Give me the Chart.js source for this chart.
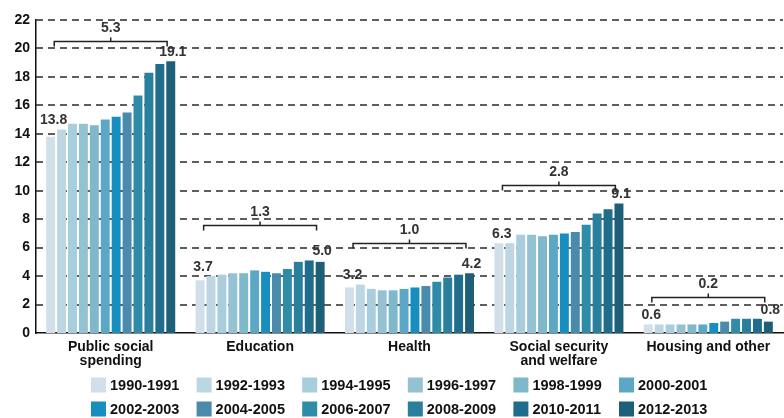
<!DOCTYPE html>
<html>
<head>
<meta charset="utf-8">
<script src="https://cdn.jsdelivr.net/npm/chart.js@4/dist/chart.umd.min.js"></script>
<style>
    body { margin: 0; background: #fff; }
    #wrap { width: 784px; height: 418px; }
</style>
</head>
<body>
<div id="wrap"><canvas id="myChart"></canvas></div>
<script>
    const categories = [["Public social", "spending"], "Education", "Health", ["Social security", "and welfare"], "Housing and other"];
    const periods = ["1990-1991", "1992-1993", "1994-1995", "1996-1997", "1998-1999", "2000-2001",
                     "2002-2003", "2004-2005", "2006-2007", "2008-2009", "2010-2011", "2012-2013"];

    // values per category, one per period (% of GDP)
    const publicSocial = [13.8, 14.3, 14.7, 14.7, 14.6, 15.0, 15.2, 15.5, 16.7, 18.3, 18.9, 19.1];
    const education = [3.7, 4.0, 4.1, 4.2, 4.2, 4.4, 4.3, 4.2, 4.5, 5.0, 5.1, 5.0];
    const health = [3.2, 3.4, 3.1, 3.0, 3.0, 3.1, 3.2, 3.3, 3.6, 3.9, 4.1, 4.2];
    const socialSecurity = [6.3, 6.3, 6.9, 6.9, 6.8, 6.9, 7.0, 7.1, 7.6, 8.4, 8.7, 9.1];
    const housing = [0.6, 0.6, 0.6, 0.6, 0.6, 0.6, 0.7, 0.8, 1.0, 1.0, 1.0, 0.8];

    const yTicks = [0, 2, 4, 6, 8, 10, 12, 14, 16, 18, 20, 22];
    // height (in axis units) of the change bracket over each group
    const bracketLevels = [20.5, 7.6, 6.3, 10.4, 2.5];

    const colors = ['#d0dfe9', '#bcd7e2', '#a8cede', '#95c2d3', '#7fb7cb', '#5ca7c6',
                    '#168ebf', '#4a8aac', '#2e8ca9', '#2a7f9c', '#1f6d8b', '#1e5f78'];

    const groups = [publicSocial, education, health, socialSecurity, housing];
    const FONT = '"Liberation Sans", Arial, sans-serif';

    const datasets = periods.map(function (p, j) {
        return {
            label: p,
            data: groups.map(g => g[j]),
            backgroundColor: colors[j],
            borderWidth: 0,
            categoryPercentage: 0.877,
            barPercentage: 0.82
        };
    });

    // dashed gridlines on the y ticks
    const dashedGrid = {
        id: 'dashedGrid',
        beforeDatasetsDraw(chart) {
            const ctx = chart.ctx;
            const y = chart.scales.y;
            const area = chart.chartArea;
            ctx.save();
            ctx.strokeStyle = '#2a2a2a';
            ctx.lineWidth = 1.6;
            ctx.setLineDash([7, 5]);
            y.ticks.forEach(function (t) {
                if (t.value === 0) return;
                const py = Math.round(y.getPixelForValue(t.value));
                ctx.beginPath();
                ctx.moveTo(area.left, py);
                ctx.lineTo(area.right, py);
                ctx.stroke();
            });
            ctx.restore();
        }
    };

    // first/last values and the bracket with the change
    const annotations = {
        id: 'annotations',
        afterDatasetsDraw(chart) {
            const ctx = chart.ctx;
            const y = chart.scales.y;
            const n = chart.data.datasets.length;
            ctx.save();
            ctx.font = 'bold 14px ' + FONT;
            ctx.fillStyle = '#333';
            ctx.textAlign = 'center';
            ctx.textBaseline = 'middle';
            groups.forEach(function (g, i) {
                const first = chart.getDatasetMeta(0).data[i];
                const second = chart.getDatasetMeta(1).data[i];
                const prev = chart.getDatasetMeta(n - 2).data[i];
                const last = chart.getDatasetMeta(n - 1).data[i];

                ctx.fillText(g[0].toFixed(1), first.x + 3, Math.min(first.y, second.y) - 9);
                ctx.fillText(g[n - 1].toFixed(1), last.x + 2, Math.min(last.y, prev.y) - 9);

                const span = last.x - first.x;
                const cx = (first.x + last.x) / 2;
                const x1 = cx - span * 0.47, x2 = cx + span * 0.47;
                const by = Math.round(y.getPixelForValue(bracketLevels[i])) + 0.5;
                ctx.strokeStyle = '#222';
                ctx.lineWidth = 1.5;
                ctx.beginPath();
                ctx.moveTo(x1, by + 5);
                ctx.lineTo(x1, by);
                ctx.lineTo(x2, by);
                ctx.lineTo(x2, by + 5);
                ctx.moveTo(cx, by);
                ctx.lineTo(cx, by - 4);
                ctx.stroke();
                ctx.fillText((g[n - 1] - g[0]).toFixed(1), cx, by - 13);
            });
            ctx.restore();
        }
    };

    // legend in two rows of six
    const periodLegend = {
        id: 'periodLegend',
        afterDraw(chart) {
            const ctx = chart.ctx;
            const top = chart.scales.x.bottom + 12;
            ctx.save();
            ctx.font = 'bold 14.5px ' + FONT;
            ctx.textAlign = 'left';
            ctx.textBaseline = 'middle';
            chart.data.datasets.forEach(function (ds, i) {
                const x = 91 + (i % 6) * 105.6;
                const yy = top + Math.floor(i / 6) * 24;
                ctx.fillStyle = ds.backgroundColor;
                ctx.fillRect(x, yy - 7.5, 15, 15);
                ctx.fillStyle = '#111';
                ctx.fillText(ds.label, x + 19, yy + 0.5);
            });
            ctx.restore();
        }
    };

    const config = {
        type: 'bar',
        data: {
            labels: categories,
            datasets: datasets
        },
        options: {
            responsive: true,
            maintainAspectRatio: false,
            animation: false,
            layout: {
                padding: { top: 20, right: 1, bottom: 45, left: 0 }
            },
            scales: {
                x: {
                    grid: { display: false, drawTicks: false },
                    border: { display: true, color: '#111', width: 1.5 },
                    ticks: {
                        color: '#111',
                        padding: 7,
                        maxRotation: 0,
                        autoSkip: false,
                        font: { family: FONT, size: 14, weight: 'bold', lineHeight: 1.0 }
                    },
                    afterFit: function (scale) { scale.height = 40; }
                },
                y: {
                    min: 0,
                    max: 22,
                    afterBuildTicks: function (scale) {
                        scale.ticks = yTicks.map(v => ({ value: v }));
                    },
                    grid: { display: false, drawTicks: false },
                    border: { display: true, color: '#111', width: 1.5 },
                    ticks: {
                        color: '#111',
                        padding: 6,
                        font: { family: FONT, size: 14, weight: 'bold' }
                    },
                    afterFit: function (scale) { scale.width = 36; }
                }
            },
            plugins: {
                legend: { display: false },
                tooltip: { enabled: false }
            }
        },
        plugins: [dashedGrid, annotations, periodLegend]
    };

    var myChart = new Chart(
        document.getElementById('myChart'),
        config
    );
</script>
</body>
</html>
